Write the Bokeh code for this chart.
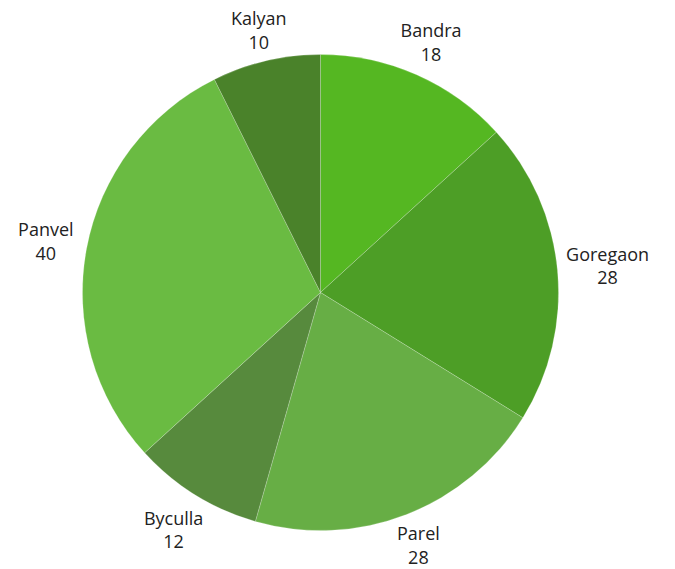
import math
from bokeh.plotting import figure
from bokeh.models import Range1d, ColumnDataSource
from bokeh.core.properties import value
from bokeh.embed import file_html
from bokeh.resources import INLINE

# ---- data ----
categories = ["Bandra", "Goregaon", "Parel", "Byculla", "Panvel", "Kalyan"]
values = [18, 28, 28, 12, 40, 10]
colors = ["#55b722", "#4d9e26", "#67ae45", "#578a3d", "#6abb42", "#4a822a"]

W, H = 675, 569
cx, cy, r = 320, 277, 238
font_px = 18
char_w = 10.0
gap = 9
half_h = 16
line_off = 12

total = float(sum(values))
starts, ends, mids = [], [], []
cum = 0.0
for v in values:
    a0 = math.pi / 2 - cum / total * 2 * math.pi
    cum += v
    a1 = math.pi / 2 - cum / total * 2 * math.pi
    starts.append(a0)
    ends.append(a1)
    mids.append((a0 + a1) / 2)

src = ColumnDataSource(dict(start=starts, end=ends, color=colors,
                            cat=categories, val=values))

p = figure(width=W, height=H, output_backend="svg", toolbar_location=None,
           x_range=Range1d(0, W), y_range=Range1d(0, H), min_border=0)
p.axis.visible = False
p.grid.visible = False
p.outline_line_color = None
p.background_fill_color = "white"
p.border_fill_color = "white"

p.wedge(x=cx, y=cy, radius=r, start_angle="start", end_angle="end",
        direction="clock", fill_color="color", line_color="white",
        line_alpha=0.2, line_width=1, source=src)

lx1, ly1, lx2, ly2, t1, t2 = [], [], [], [], [], []
for cat, v, m in zip(categories, values, mids):
    ux, uy = math.cos(m), math.sin(m)
    w = len(cat) * char_w
    d = r + gap + abs(ux) * w / 2 + abs(uy) * half_h
    bx, by = cx + ux * d, cy + uy * d
    lx1.append(bx); ly1.append(by + line_off); t1.append(cat)
    lx2.append(bx); ly2.append(by - line_off); t2.append(str(v))

for xs, ys, ts in ((lx1, ly1, t1), (lx2, ly2, t2)):
    p.text(x=xs, y=ys, text=ts, text_align="center", text_baseline="middle",
           text_font=value("Open Sans"), text_font_size=f"{font_px}px",
           text_color="#222222")

open("out.html", "w").write(file_html(p, INLINE))
